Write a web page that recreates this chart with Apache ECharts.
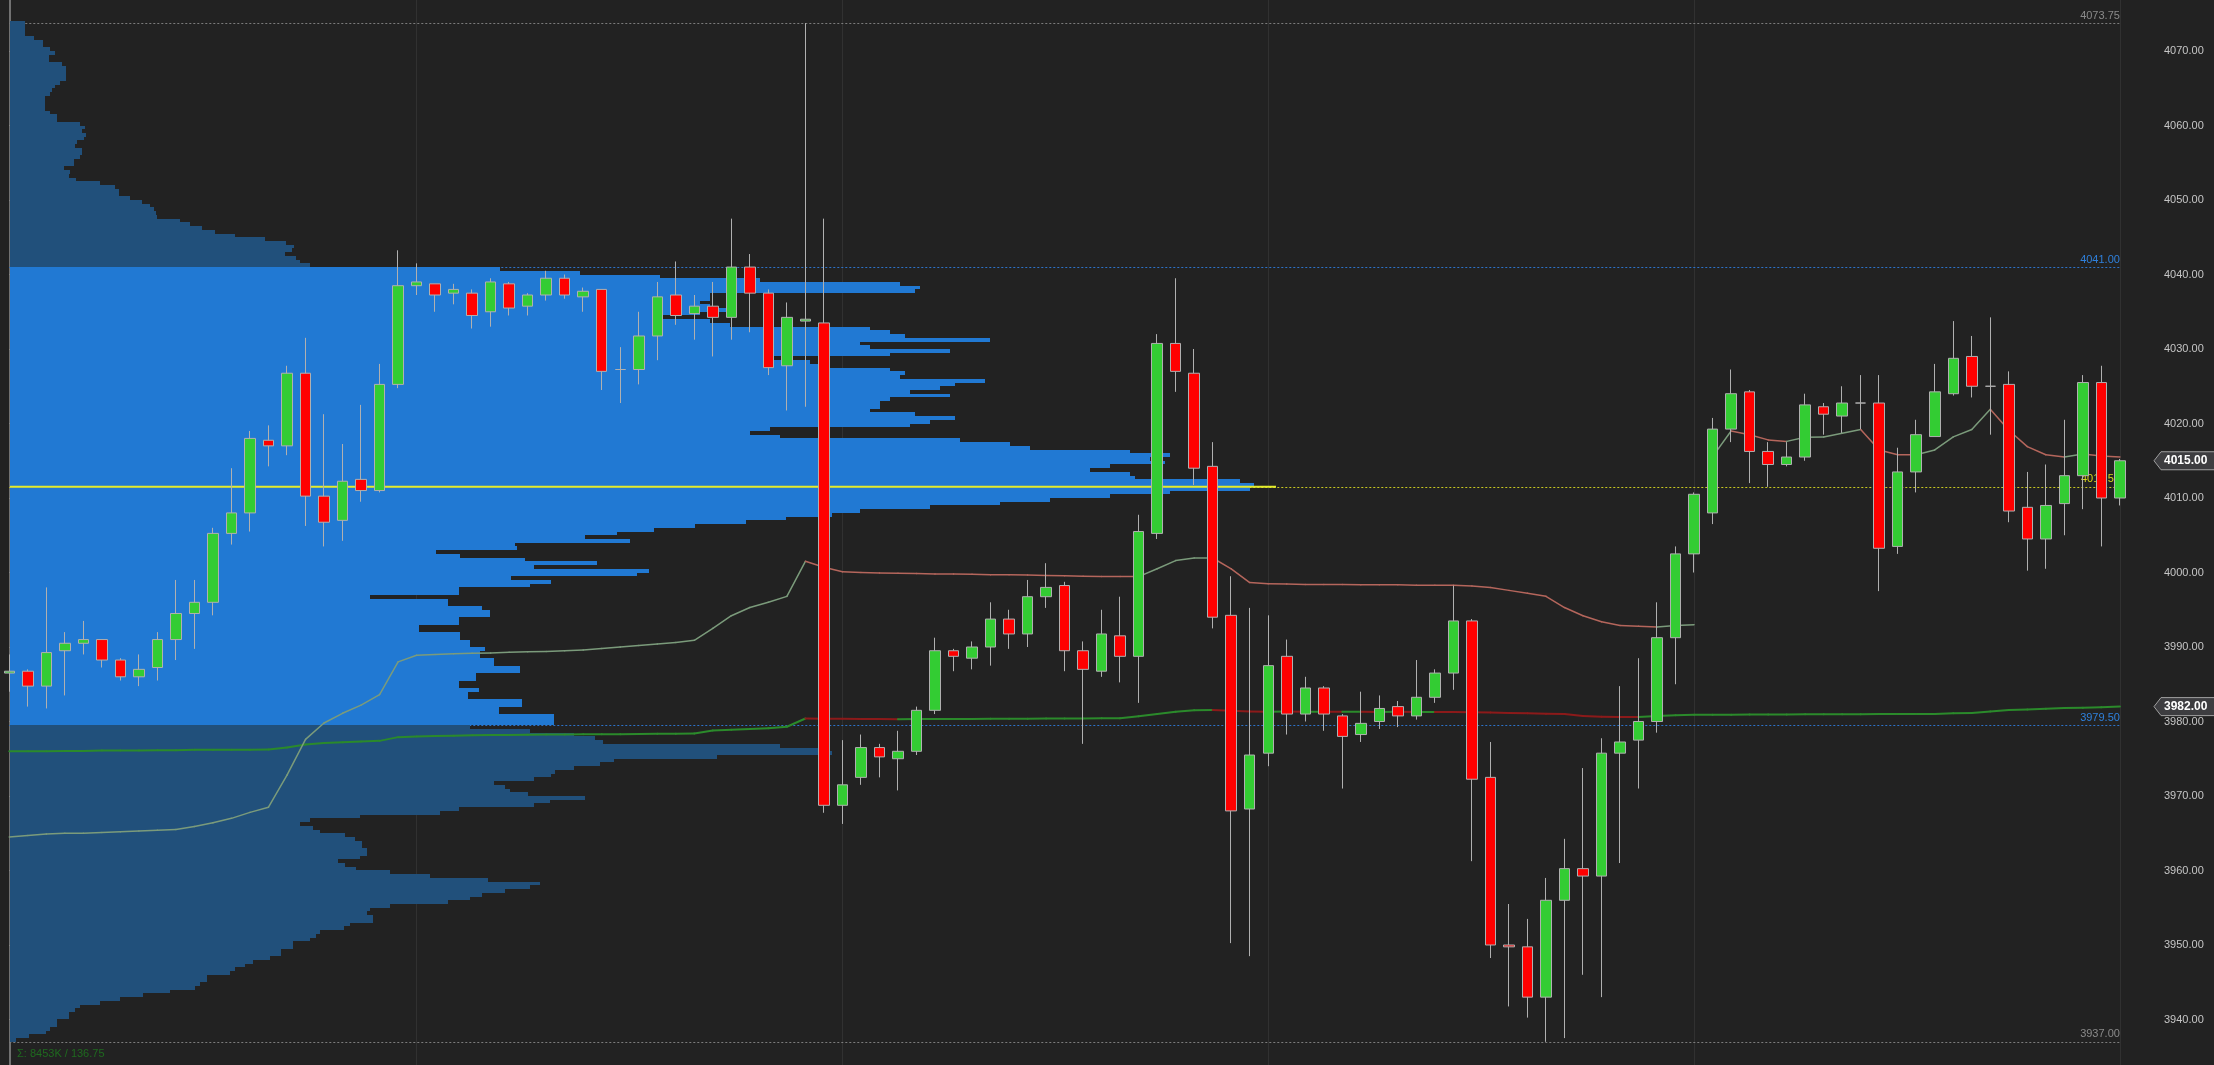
<!DOCTYPE html>
<html>
<head>
<meta charset="utf-8">
<script src="https://cdn.jsdelivr.net/npm/echarts@6/dist/echarts.min.js"></script>
<style>
html,body{margin:0;padding:0;background:#222222;}
#c{width:2214px;height:1065px;}
</style>
</head>
<body>
<div id="c"></div>
<script>
// ---------- DATA ----------
// OHLC candles: [open, close, low, high]
const candles = [
[3986.5,3986.75,3984,3989],[3986.75,3984.75,3982,3987],[3984.75,3989.25,3981.75,3998],[3989.5,3990.5,3983.5,3992],[3990.5,3991,3989,3993.5],
[3991,3988.25,3987.25,3991],[3988.25,3986,3985.5,3988.5],[3986,3987,3984.75,3989],[3987.25,3991,3985.5,3992],[3991,3994.5,3988.25,3999],
[3994.5,3996,3989.75,3999],[3996,4005.25,3994.25,4006],[4005.25,4008,4003.75,4014],[4008,4018,4005.5,4019],[4017.75,4017,4014.25,4019.75],
[4017,4026.75,4015.75,4027.75],[4026.75,4010.25,4006.25,4031.5],[4010.25,4006.75,4003.5,4021.25],[4007,4012.25,4004.25,4017.25],[4012.5,4011,4009.5,4022.5],
[4011,4025.25,4010.75,4028],[4025.25,4038.5,4024.75,4043.25],[4038.5,4039,4037.25,4041.5],[4038.75,4037.25,4035,4038.75],[4037.5,4038,4036,4038.75],
[4037.5,4034.5,4032.75,4038],[4035,4039,4033,4039.5],[4038.75,4035.5,4034.5,4039],[4035.75,4037.25,4034.5,4037.5],[4037.25,4039.5,4036.5,4040.5],
[4039.5,4037.25,4036.75,4040],[4037,4037.75,4035,4038.25],[4038,4027,4024.5,4038],[4027.25,4027.25,4022.75,4030.25],[4027.25,4031.75,4025.25,4035],
[4031.75,4037,4028.5,4039],[4037.25,4034.5,4033.25,4041.75],[4034.75,4035.75,4031.25,4037.25],[4035.75,4034.25,4029,4039],[4034.25,4041,4031.25,4047.5],
[4041,4037.5,4032.25,4042.75],[4037.5,4027.5,4026.5,4038],[4027.75,4034.25,4021.75,4036.25],[4033.75,4034,4022.25,4073.75],[4033.5,3968.75,3967.75,4047.5],
[3968.75,3971.5,3966.25,3977.5],[3972.5,3976.5,3971.5,3978.25],[3976.5,3975.25,3972.5,3977],[3975,3976,3970.75,3978.75],[3976,3981.5,3975.5,3982],
[3981.5,3989.5,3981,3991.25],[3989.5,3988.75,3986.75,3989.75],[3988.5,3990,3987,3990.75],[3990,3993.75,3987.5,3996],[3993.75,3991.75,3989.75,3995],
[3991.75,3996.75,3990,3999],[3996.75,3998,3995.25,4001.25],[3998.25,3989.5,3986.75,3998.75],[3989.5,3987,3977,3990.75],[3986.75,3991.75,3986,3995],
[3991.5,3988.75,3985.25,3996.75],[3988.75,4005.5,3982.5,4007.75],[4005.25,4030.75,4004.5,4032],[4030.75,4027,4024.25,4039.5],[4026.75,4014,4011.75,4030],
[4014.25,3994,3992.5,4017.5],[3994.25,3968,3950.25,3999.5],[3968.25,3975.5,3948.5,3995.25],[3975.75,3987.5,3974,3994.25],[3988.75,3981,3978.25,3991],
[3981,3984.5,3980,3986],[3984.5,3981,3978.75,3984.75],[3980.75,3978,3971,3981],[3978.25,3979.75,3977.25,3984],[3980,3981.75,3979,3983.5],
[3982,3980.75,3979.25,3982.75],[3980.75,3983.25,3980.25,3988.25],[3983.25,3986.5,3982.5,3987],[3986.5,3993.5,3984.25,3998.25],[3993.5,3972.25,3961.25,3993.75],
[3972.5,3950,3948.25,3977.25],[3950,3949.75,3941.75,3955.5],[3949.75,3943,3940.25,3953.5],[3943,3956,3937,3959],[3956,3960.25,3937.5,3964.25],
[3960.25,3959.25,3946,3973.75],[3959.25,3975.75,3943,3977.75],[3975.75,3977.25,3961,3984.75],[3977.5,3980,3971,3988.5],[3980,3991.25,3978.5,3996],
[3991.25,4002.5,3985,4003.5],[4002.5,4010.5,4000,4010.75],[4008,4019.25,4006.5,4020.75],[4019.25,4024,4017.5,4027.25],[4024.25,4016.25,4012,4024.5],
[4016.25,4014.5,4011.5,4017.5],[4014.5,4015.5,4014.25,4017.5],[4015.5,4022.5,4015,4024],[4022.25,4021.25,4018.5,4022.75],[4021,4022.75,4018.75,4025],
[4022.75,4022.75,4019.25,4026.5],[4022.75,4003.25,3997.5,4026.5],[4003.5,4013.5,4002.5,4016.75],[4013.5,4018.5,4010.75,4020.5],[4018.25,4024.25,4018.25,4028],
[4024,4028.75,4023.75,4033.75],[4029,4025,4023.5,4031.75],[4025,4025,4018.5,4034.25],[4025.25,4008.25,4006.75,4027],[4008.75,4004.5,4000.25,4013.5],
[4004.5,4009,4000.5,4014.5],[4009.25,4013,4005,4020.5],[4013,4025.5,4008.5,4026.5],[4025.5,4010,4003.5,4027.75],[4010,4015,4009,4015.25]
];

// developing average line, first session segment (per candle, null = not drawn)
const avgLineA = [
3964.5,3964.7,3964.9,3965.0,3965.0,3965.1,3965.2,3965.3,3965.4,3965.5,
3965.9,3966.4,3967.0,3967.8,3968.5,3972.8,3977.6,3979.8,3981.1,3982.2,
3983.6,3988.0,3988.9,3989.0,3989.1,3989.15,3989.2,3989.3,3989.35,3989.4,
3989.5,3989.6,3989.8,3990.0,3990.2,3990.4,3990.6,3990.9,3992.5,3994.2,
3995.3,3996.0,3996.8,4001.5,4000.7,4000.1,4000.0,3999.95,3999.9,3999.85,
3999.8,3999.8,3999.75,3999.7,3999.7,3999.65,3999.6,3999.55,3999.5,3999.45,
3999.45,3999.45,4000.5,4001.6,4001.95,4001.95,4000.5,3998.65,3998.5,3998.45,
3998.4,3998.4,3998.4,3998.35,3998.35,3998.35,3998.3,3998.3,3998.3,3998.2,
3998.0,3997.6,3997.2,3996.8,3995.3,3994.2,3993.4,3992.9,3992.8,3992.7,
3992.9,3993.0,
null,null,null,null,null,null,null,null,null,null,null,null,null,null,null,null,null,null,null,null,null,null,null
];
// developing average line, second session segment
const avgLineB = [
null,null,null,null,null,null,null,null,null,null,null,null,null,null,null,null,null,null,null,null,
null,null,null,null,null,null,null,null,null,null,null,null,null,null,null,null,null,null,null,null,
null,null,null,null,null,null,null,null,null,null,null,null,null,null,null,null,null,null,null,null,
null,null,null,null,null,null,null,null,null,null,null,null,null,null,null,null,null,null,null,null,
null,null,null,null,null,null,null,null,null,null,null,null,
4015.55,4019.0,4018.5,4017.8,4017.6,4018.15,4018.2,4018.7,4019.2,4016.45,
4015.8,4015.8,4016.45,4018.2,4019.2,4021.9,4019.1,4016.9,4015.8,4015.5,
4015.9,4015.65,4015.5
];
// slow average line
const slowLine = [
3976.0,3976.0,3976.0,3976.05,3976.05,3976.1,3976.1,3976.1,3976.15,3976.15,
3976.2,3976.2,3976.2,3976.2,3976.25,3976.5,3976.9,3977.1,3977.2,3977.3,
3977.4,3977.9,3978.0,3978.05,3978.1,3978.15,3978.2,3978.2,3978.22,3978.24,
3978.26,3978.28,3978.3,3978.3,3978.32,3978.34,3978.36,3978.4,3978.8,3978.9,
3979.0,3979.1,3979.3,3980.4,3980.38,3980.36,3980.34,3980.32,3980.3,3980.32,
3980.33,3980.34,3980.35,3980.36,3980.37,3980.38,3980.39,3980.4,3980.41,3980.42,
3980.43,3980.7,3981.0,3981.3,3981.5,3981.55,3981.45,3981.35,3981.32,3981.33,
3981.31,3981.32,3981.3,3981.31,3981.29,3981.3,3981.28,3981.29,3981.27,3981.25,
3981.2,3981.15,3981.1,3981.05,3981.0,3980.75,3980.65,3980.62,3980.6,3980.75,
3980.85,3980.9,3980.91,3980.92,3980.93,3980.94,3980.95,3980.96,3980.97,3980.98,
3980.98,3980.99,3980.99,3981.0,3981.0,3981.1,3981.15,3981.35,3981.55,3981.6,
3981.7,3981.8,3981.85,3981.9,3982.0
];

// volume profile, 0.5-point rows, listed from high price to low price
const profileStep = 0.5;
const profileAboveTop = 4073.5;   // lower edge of first row above value area
const profileAbove = [15,15,15,15,24,33,33,40,45,39, 39,52,56,56,56,56,50,45,42,40,
  35,35,35,35,40,47,47,70,75,72, 76,74,67,65,72,72,70,64,64,54,
  60,59,66,90,105,109,109,120,132,140, 144,146,147,170,180,192,205,225,255,276,
  284,282,275,286,290,300];
const profileVATop = 4040.5;
const profileVA = [490,570,650,750,890,910,905,700,700,690,
  700,720,690,650,700,720,860,880,895,980,
  850,860,940,880,760,800,810,880,895,890,
  975,945,930,900,940,880,870,870,860,905,
  945,920,900,760,740,770,950,1000,1020,1120,
  1160,1140,1155,1100,1080,1120,1125,1230,1244,1240,
  1160,1100,1040,990,920,850,822,776,736,685,
  644,607,575,620,505,507,426,450,515,587,
  524,639,627,501,541,520,449,449,360,438,
  438,472,480,480,449,449,409,409,450,450,
  460,460,475,470,470,484,484,510,510,466,
  466,449,449,469,458,458,512,512,489,489,
  544,544,544];
const profileBelowTop = 3979.0;
const profileBelow = [460,520,564,585,593,770,815,822,707,604,
  590,564,545,541,524,484,495,500,518,575,
  540,524,449,430,350,300,290,303,310,335,
  345,352,352,357,357,350,328,335,346,380,
  420,478,530,520,495,472,460,438,380,360,
  357,363,363,340,334,310,306,300,283,283,
  271,271,260,243,235,225,220,197,197,190,
  185,160,133,110,90,70,65,59,59,47,
  47,40,36,19,6];

const sessionHigh = 4073.75, vaHigh = 4041.00, poc = 4011.50, vaLow = 3979.50, sessionLow = 3937.00;
const lastPrice = 4015.00, slowLast = 3982.00;
const priceTicks = [3940,3950,3960,3970,3980,3990,4000,4010,4020,4030,4040,4050,4060,4070];
const sessionBreaks = [22,45,68,91,114];
const summaryText = 'Σ: 8453K / 136.75';

// ---------- STYLE ----------
const FONT = '"Liberation Sans", Arial, sans-serif';
const BG = '#222222';
const VA_COLOR = '#2179d3';
const OUT_COLOR = '#21507b';

// ---------- BUILD ----------
const candleData = candles.map((c, i) => [i, c[0], c[1], c[2], c[3]]);

function profileRows(top, arr, inVA) {
  return arr.map((v, k) => [top - k * profileStep, v, inVA ? 1 : 0]);
}
const profileData = [].concat(
  profileRows(profileAboveTop, profileAbove, false),
  profileRows(profileVATop, profileVA, true),
  profileRows(profileBelowTop, profileBelow, false)
);
const pocVol = Math.max.apply(null, profileVA);

function segments(values) {
  const out = [];
  let up = 1;
  for (let i = 1; i < values.length; i++) {
    const a = values[i - 1], b = values[i];
    if (a == null || b == null) continue;
    if (b > a) up = 1; else if (b < a) up = 0;
    out.push([i - 1, a, i, b, up]);
  }
  return out;
}
function segSeries(values, upColor, downColor, width, z) {
  return {
    type: 'custom', coordinateSystem: 'cartesian2d', xAxisIndex: 0, yAxisIndex: 0, z: z,
    silent: true,
    data: segments(values),
    encode: {x: [0, 2], y: [1, 3]},
    renderItem: function (params, api) {
      const p1 = api.coord([api.value(0), api.value(1)]);
      const p2 = api.coord([api.value(2), api.value(3)]);
      return {type: 'line', shape: {x1: p1[0], y1: p1[1], x2: p2[0], y2: p2[1]},
        style: {stroke: api.value(4) ? upColor : downColor, lineWidth: width, lineCap: 'round'}};
    }
  };
}

function levelLine(v, color, labelColor) {
  return [
    {coord: [0, v], lineStyle: {color: color, type: [2, 2], width: 1},
     label: {show: true, position: 'insideEndTop', formatter: v.toFixed(2), color: labelColor,
             fontSize: 11, fontFamily: FONT, distance: [0, 2]}},
    {coord: [candles.length - 1, v]}
  ];
}

const chart = echarts.init(document.getElementById('c'), null, {renderer: 'canvas'});
const option = {
  backgroundColor: BG,
  animation: false,
  title: {text: summaryText, left: 12, top: 1043,
    textStyle: {color: '#1f6a1f', fontSize: 11, fontWeight: 'normal', fontFamily: FONT}},
  grid: {left: 0, right: 53, top: 0, bottom: 0},
  xAxis: [
    {type: 'value', min: -0.502, max: 116.22, show: false},
    {type: 'value', min: -10, max: 2151, show: false}
  ],
  yAxis: {
    type: 'value', position: 'right', min: 3933.89, max: 4076.85,
    splitLine: {show: false},
    axisLine: {show: true, lineStyle: {color: '#8e8e8e', width: 1.5}},
    axisTick: {show: true, length: 5, customValues: priceTicks, lineStyle: {color: '#8e8e8e'}},
    axisLabel: {customValues: priceTicks, formatter: v => v.toFixed(2), color: '#c6c6c6',
      fontSize: 11, margin: 3, fontFamily: FONT}
  },
  series: [
    { // session separators
      type: 'line', xAxisIndex: 0, data: [], z: 0, silent: true,
      markLine: {silent: true, z: 0, symbol: ['none', 'none'], label: {show: false},
        lineStyle: {color: 'rgba(255,255,255,0.07)', type: 'solid', width: 1},
        data: sessionBreaks.map(b => ({xAxis: b}))}
    },
    { // key levels
      type: 'line', xAxisIndex: 0, data: [], z: 1, silent: true,
      markLine: {silent: true, z: 1, symbol: ['none', 'none'],
        data: [
          levelLine(sessionHigh, '#7c7c7c', '#8a8a8a'),
          levelLine(vaHigh, '#2d72c8', '#2f80dc'),
          levelLine(poc, '#c8c820', '#d6d61c'),
          levelLine(vaLow, '#2d72c8', '#2f80dc'),
          levelLine(sessionLow, '#7c7c7c', '#8a8a8a')
        ]}
    },
    { // volume profile
      type: 'custom', coordinateSystem: 'cartesian2d', xAxisIndex: 1, yAxisIndex: 0, z: 2, silent: true,
      data: profileData, encode: {x: 1, y: 0},
      renderItem: function (params, api) {
        const low = api.value(0), vol = api.value(1);
        const a = api.coord([0, low + profileStep]);
        const b = api.coord([vol, low]);
        const y0 = Math.round(a[1]), y1 = Math.round(b[1]);
        const x0 = Math.round(a[0]), x1 = Math.round(b[0]);
        return {type: 'rect', shape: {x: x0, y: y0, width: x1 - x0, height: Math.max(1, y1 - y0)},
          style: {fill: api.value(2) ? VA_COLOR : OUT_COLOR, stroke: null, lineWidth: 0}};
      }
    },
    { // point of control (solid part over the profile)
      type: 'custom', coordinateSystem: 'cartesian2d', xAxisIndex: 1, yAxisIndex: 0, z: 3, silent: true,
      data: [[poc, pocVol]], encode: {x: 1, y: 0},
      renderItem: function (params, api) {
        const a = api.coord([0, api.value(0)]);
        const b = api.coord([api.value(1), api.value(0)]);
        return {type: 'line', shape: {x1: a[0], y1: a[1], x2: b[0] + 22, y2: b[1]},
          style: {stroke: '#e4ec2c', lineWidth: 2}};
      }
    },
    segSeries(slowLine, '#2b8a2b', '#8c1a1a', 2, 3),
    segSeries(avgLineA, '#7b9b7b', '#b5665c', 1.5, 3),
    segSeries(avgLineB, '#7b9b7b', '#b5665c', 1.5, 3),
    {
      type: 'candlestick', xAxisIndex: 0, yAxisIndex: 0, z: 4, silent: true,
      data: candleData, encode: {x: 0, y: [1, 2, 3, 4]},
      barWidth: 11,
      itemStyle: {color: '#33cc33', color0: '#ff0000', borderColor: '#b0b0b0', borderColor0: '#b0b0b0',
        borderColorDoji: '#b0b0b0', borderWidth: 1}
    },
    { // price tags on the axis
      type: 'custom', coordinateSystem: 'cartesian2d', xAxisIndex: 0, yAxisIndex: 0, z: 6, silent: true, clip: false,
      data: [[lastPrice], [slowLast]],
      renderItem: function (params, api) {
        const y = api.coord([0, api.value(0)])[1];
        const x0 = params.coordSys.x + params.coordSys.width - 7;
        return {type: 'group', children: [
          {type: 'polygon', shape: {points: [[x0, y], [x0 + 7, y - 9], [x0 + 62, y - 9], [x0 + 62, y + 9], [x0 + 7, y + 9]]},
            style: {fill: '#3d3d40', stroke: '#a0a0a0', lineWidth: 1}},
          {type: 'text', style: {text: api.value(0).toFixed(2), x: x0 + 10, y: y, verticalAlign: 'middle',
            fill: '#ffffff', font: 'bold 12px ' + FONT}}
        ]};
      }
    }
  ]
};
chart.setOption(option);
</script>
</body>
</html>
